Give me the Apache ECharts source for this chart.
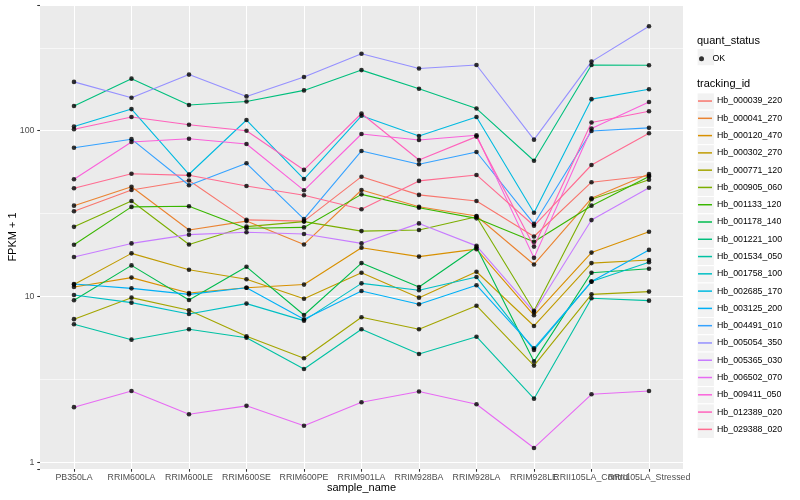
<!DOCTYPE html>
<html><head><meta charset="utf-8">
<script src="https://cdn.jsdelivr.net/npm/echarts@6/dist/echarts.min.js"></script>
<style>html,body{margin:0;padding:0;background:#fff}#c{width:800px;height:500px}</style>
</head><body><div id="c"></div>
<script>
const categories = ['PB350LA','RRIM600LA','RRIM600LE','RRIM600SE','RRIM600PE','RRIM901LA','RRIM928BA','RRIM928LA','RRIM928LE','RRII105LA_Control','RRII105LA_Stressed'];
const trackingIds = ['Hb_000039_220','Hb_000041_270','Hb_000120_470','Hb_000302_270','Hb_000771_120','Hb_000905_060','Hb_001133_120','Hb_001178_140','Hb_001221_100','Hb_001534_050','Hb_001758_100','Hb_002685_170','Hb_003125_200','Hb_004491_010','Hb_005054_350','Hb_005365_030','Hb_006502_070','Hb_009411_050','Hb_012389_020','Hb_029388_020'];
const hb_000039_220 = [32.7, 43.9, 50.1, 29.0, 28.5, 52.8, 41.0, 37.7, 23.0, 48.9, 53.5];
const hb_000041_270 = [35.3, 45.9, 25.2, 28.5, 20.6, 43.9, 34.8, 30.6, 15.6, 39.1, 54.8];
const hb_000120_470 = [11.4, 13.0, 10.5, 11.3, 11.8, 19.7, 17.4, 19.3, 7.7, 18.4, 24.6];
const hb_000302_270 = [11.8, 18.2, 14.5, 12.7, 9.7, 13.9, 9.84, 14.1, 6.64, 15.9, 16.6];
const hb_000771_120 = [7.3, 9.84, 8.26, 5.75, 4.24, 7.49, 6.34, 8.8, 3.83, 10.3, 10.7];
const hb_000905_060 = [26.3, 37.7, 20.6, 26.4, 28.3, 24.8, 25.2, 30.3, 8.21, 38.6, 50.6];
const hb_001133_120 = [20.5, 34.7, 35.0, 25.8, 26.1, 41.3, 34.3, 29.6, 21.4, 35.3, 53.0];
const hb_001178_140 = [9.5, 15.4, 9.53, 15.1, 7.73, 15.9, 11.4, 19.8, 4.06, 13.9, 14.7];
const hb_001221_100 = [141, 206, 143, 150, 175, 232, 179, 136, 65.9, 249, 248];
const hb_001534_050 = [6.8, 5.49, 6.34, 5.64, 3.65, 6.34, 4.5, 5.72, 2.42, 9.75, 9.44];
const hb_001758_100 = [10.2, 9.18, 7.84, 9.06, 7.15, 12.0, 10.9, 13.1, 4.76, 12.3, 16.1];
const hb_002685_170 = [106, 135, 54.6, 116, 51.1, 123, 92.9, 121, 32.0, 155, 178];
const hb_003125_200 = [11.9, 11.2, 10.3, 11.3, 7.28, 10.8, 8.97, 11.7, 4.87, 12.3, 19.1];
const hb_004491_010 = [78.9, 88.9, 46.9, 63.6, 29.3, 75.5, 62.7, 74.4, 27.4, 99.5, 104];
const hb_005054_350 = [197, 158, 218, 161, 211, 291, 237, 249, 88.3, 261, 427];
const hb_005365_030 = [17.3, 20.9, 23.6, 24.4, 23.8, 20.9, 27.6, 20.2, 8.07, 28.9, 45.3];
const hb_006502_070 = [2.15, 2.69, 1.95, 2.19, 1.66, 2.30, 2.67, 2.24, 1.22, 2.57, 2.69];
const hb_009411_050 = [51, 85.5, 89.5, 83.1, 43.7, 95.5, 87.9, 93.8, 17.1, 103, 149];
const hb_012389_020 = [102, 121, 108.6, 100, 58.0, 127, 66.6, 92.1, 20.0, 112, 131];
const hb_029388_020 = [45, 55, 53.8, 46.4, 40.8, 33.6, 49.8, 54.1, 26.7, 62.1, 96.5];
const yLimits = [0.911, 573];
const yMinorTicks = [3.1623, 31.623, 316.23];
const quantStatus = ['OK'];

const seriesValues = [hb_000039_220, hb_000041_270, hb_000120_470, hb_000302_270, hb_000771_120, hb_000905_060, hb_001133_120, hb_001178_140, hb_001221_100, hb_001534_050, hb_001758_100, hb_002685_170, hb_003125_200, hb_004491_010, hb_005054_350, hb_005365_030, hb_006502_070, hb_009411_050, hb_012389_020, hb_029388_020];
const colors = ['#F8766D','#EA8331','#D89000','#C09B00','#A3A500','#7CAE00','#39B600','#00BB4E','#00BF7D','#00C1A3','#00BFC4','#00BAE0','#00B0F6','#35A2FF','#9590FF','#C77CFF','#E76BF3','#FA62DB','#FF62BC','#FF6C91'];

const FONT = '"Liberation Sans", Arial, Helvetica, sans-serif';
const chart = echarts.init(document.getElementById('c'), null, {renderer: 'canvas'});

const series = [];
series.push({
  type: 'line', xAxisIndex: 0, yAxisIndex: 0, data: [], silent: true,
  markLine: {
    z: 1, silent: true, symbol: ['none', 'none'], label: {show: false},
    lineStyle: {color: '#ffffff', width: 0.6, type: 'solid'},
    emphasis: {disabled: true},
    data: yMinorTicks.map(v => ({yAxis: v}))
  }
});
trackingIds.forEach((id, k) => {
  series.push({
    name: id, type: 'line', xAxisIndex: 1, yAxisIndex: 1, z: 2,
    symbol: 'none', showSymbol: false, silent: true,
    lineStyle: {color: colors[k], width: 1.1},
    itemStyle: {color: colors[k]},
    emphasis: {disabled: true},
    data: seriesValues[k].map((v, i) => [categories[i], v])
  });
});
const pts = [];
seriesValues.forEach(arr => arr.forEach((v, i) => pts.push([categories[i], v])));
series.push({
  name: quantStatus[0], type: 'scatter', xAxisIndex: 1, yAxisIndex: 1, z: 3,
  symbol: 'circle', symbolSize: 4.6, silent: true,
  itemStyle: {color: '#000000'}, emphasis: {disabled: true},
  data: pts
});

const keyRects = [];
const keyCenters = [56.7].concat(trackingIds.map((_, i) => 101 + i * 17.28));
keyCenters.forEach(cy => keyRects.push({
  type: 'rect', left: 696.6, top: cy - 8.64, z: -1, silent: true,
  shape: {width: 17.28, height: 17.28},
  style: {fill: '#F2F2F2', stroke: '#ffffff', lineWidth: 1}
}));

const option = {
  animation: false,
  backgroundColor: '#ffffff',
  textStyle: {fontFamily: FONT},
  title: [
    {text: 'quant_status', left: 697, top: 35, padding: 0, textStyle: {fontSize: 11, fontWeight: 'normal', color: '#000', fontFamily: FONT}},
    {text: 'tracking_id', left: 697, top: 78.5, padding: 0, textStyle: {fontSize: 11, fontWeight: 'normal', color: '#000', fontFamily: FONT}}
  ],
  graphic: keyRects,
  legend: [
    {data: quantStatus, orient: 'vertical', left: 699, top: 54.2, padding: 0,
     itemWidth: 12, itemHeight: 5, selectedMode: false,
     textStyle: {fontSize: 8.8, color: '#000', fontFamily: FONT}},
    {data: trackingIds, orient: 'vertical', left: 698, top: 92.4, padding: 0,
     icon: 'path://M0,0H14V1.5H0Z',
     itemWidth: 14, itemHeight: 17.28, itemGap: 0, selectedMode: false,
     textStyle: {fontSize: 8.8, lineHeight: 17.28, color: '#000', fontFamily: FONT}}
  ],
  grid: [
    {left: 40, right: 117, top: 5, bottom: 31, show: true, backgroundColor: '#EBEBEB', borderWidth: 0, containLabel: false, outerBoundsMode: 'none'},
    {left: 74, right: 151, top: 5, bottom: 31, show: false, containLabel: false, outerBoundsMode: 'none'}
  ],
  xAxis: [
    {type: 'value', gridIndex: 0, min: 0, max: 1, show: false},
    {type: 'category', gridIndex: 1, data: categories, boundaryGap: false,
     name: 'sample_name', nameLocation: 'middle', nameGap: 13, nameMoveOverlap: false,
     nameTextStyle: {fontSize: 11, color: '#000', fontFamily: FONT},
     axisLine: {show: false},
     axisTick: {show: true, alignWithLabel: true, length: 2.75, lineStyle: {color: '#333333', width: 1.07}},
     axisLabel: {interval: 0, margin: 4, fontSize: 8.8, color: '#4D4D4D', fontFamily: FONT},
     splitLine: {show: true, interval: 0, lineStyle: {color: '#ffffff', width: 1.07}}}
  ],
  yAxis: [
    {type: 'log', gridIndex: 0, logBase: 10, min: yLimits[0], max: yLimits[1],
     name: 'FPKM + 1', nameLocation: 'middle', nameGap: 22, nameRotate: 90, nameMoveOverlap: false,
     nameTextStyle: {fontSize: 11, color: '#000', fontFamily: FONT},
     axisLine: {show: false},
     axisTick: {show: true, length: 2.75, lineStyle: {color: '#333333', width: 1.07}},
     axisLabel: {margin: 5.5, fontSize: 8.8, color: '#4D4D4D', fontFamily: FONT,
       formatter: v => { const l = Math.log10(v); return Math.abs(l - Math.round(l)) < 1e-6 ? String(Math.round(v)) : ''; }},
     splitLine: {show: true, lineStyle: {color: '#ffffff', width: 1.07}}},
    {type: 'log', gridIndex: 1, logBase: 10, min: yLimits[0], max: yLimits[1], show: false,
     splitLine: {show: false}}
  ],
  series: series
};
chart.setOption(option);
</script>
</body></html>
